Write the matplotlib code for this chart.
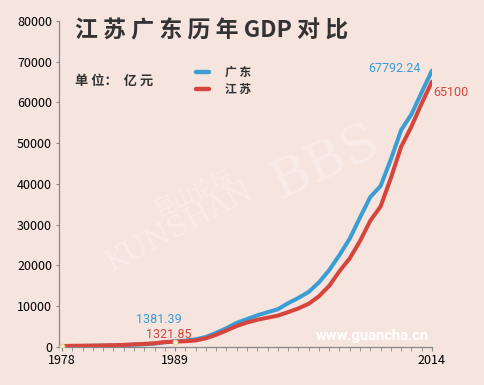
import numpy as np
import matplotlib
matplotlib.use('Agg')
import matplotlib.pyplot as plt

plt.rcParams['font.family'] = ['Noto Sans CJK SC', 'DejaVu Sans']

years = list(range(1978, 2015))
# 广东 GDP (亿元)
guangdong = [185.85, 209.34, 249.65, 290.36, 339.92, 368.75, 458.74, 577.38, 667.53, 846.69,
             1155.37, 1381.39, 1559.03, 1893.30, 2447.54, 3469.28, 4619.02, 5933.05, 6834.97,
             7774.53, 8530.88, 9250.68, 10741.25, 12039.25, 13502.42, 15844.64, 18864.62,
             22557.37, 26587.76, 31777.01, 36796.71, 39482.56, 46013.06, 53210.28, 57067.92,
             62474.79, 67792.24]
# 江苏 GDP (亿元)
jiangsu = [249.24, 298.55, 319.80, 350.02, 390.17, 437.65, 518.85, 651.82, 744.94, 922.33,
           1208.85, 1321.85, 1416.50, 1601.38, 2136.02, 2998.16, 4057.39, 5155.25, 6004.21,
           6680.34, 7199.95, 7697.82, 8553.69, 9456.84, 10606.85, 12442.87, 15003.60,
           18598.69, 21742.05, 26018.48, 30981.98, 34457.30, 41425.48, 49110.27, 54058.22,
           59753.37, 65100.00]
tick_years = [1978, 1989, 2014]

bg = '#f6e4df'
blue = '#3b9dd3'
red = '#d6453d'

fig = plt.figure(figsize=(4.85, 3.85), dpi=100, facecolor=bg)
ax = fig.add_axes([0.1216, 0.0987, 0.769, 0.847], facecolor=bg)

# 水印
wm = dict(color='white', alpha=0.3, ha='center', va='center')
fig.text(0.40, 0.50, '昆山论坛', fontsize=15, rotation=25, **wm)
fig.text(0.37, 0.41, 'KUNSHAN', fontsize=21, rotation=28, family='DejaVu Serif',
         fontweight='light', **wm)
fig.text(0.67, 0.58, 'BBS', fontsize=38, rotation=25, family='DejaVu Serif', **wm)

ax.plot(years, guangdong, color=blue, lw=2.9, solid_capstyle='round', zorder=3)
ax.plot(years, jiangsu, color=red, lw=2.9, solid_capstyle='round', zorder=4)
for yr in (1978, 1989):
    i = years.index(yr)
    ax.plot(yr, jiangsu[i], 'o', ms=3.5, mfc='#f6ecc8', mec='#e8d9a0', mew=0.6, zorder=5)

ax.set_xlim(1977.7, 2014)
ax.set_ylim(0, 80000)
ax.set_yticks(np.arange(0, 80001, 10000))
ax.set_xticks(tick_years)
ax.set_xticks(years, minor=True)
ax.tick_params(axis='y', labelsize=9, length=2, color='#888888', pad=3)
ax.tick_params(axis='x', which='both', labelsize=9, length=3, color='#888888', pad=2)
for s in ('top', 'right'):
    ax.spines[s].set_visible(False)
for s in ('left', 'bottom'):
    ax.spines[s].set_color('#888888')
    ax.spines[s].set_linewidth(0.9)

# 标题与说明
fig.text(0.155, 0.92, '江 苏 广 东 历 年 GDP 对 比', fontsize=16.5, fontweight='bold',
         color='#333333', ha='left', va='center')
fig.text(0.155, 0.79, '单 位：  亿 元', fontsize=9.5, fontweight='bold', color='#333333',
         ha='left', va='center')
fig.add_artist(plt.Line2D([0.405, 0.43], [0.813, 0.813], color=blue, lw=3.2,
                          solid_capstyle='round'))
fig.add_artist(plt.Line2D([0.405, 0.43], [0.768, 0.768], color=red, lw=3.2,
                          solid_capstyle='round'))
fig.text(0.463, 0.813, '广 东', fontsize=8.5, fontweight='bold', color='#333333',
         va='center')
fig.text(0.463, 0.768, '江 苏', fontsize=8.5, fontweight='bold', color='#333333',
         va='center')

# 数值标注
lab = dict(textcoords='offset points', fontsize=9, family='Roboto', va='center')
ax.annotate('67792.24', (years[-1], guangdong[-1]), xytext=(-46, 1.5), color=blue, **lab)
ax.annotate('65100', (years[-1], jiangsu[-1]), xytext=(1, -8), color=red, **lab)
ax.annotate('1381.39', (1989, guangdong[11]), xytext=(-28, 15.5), color=blue, **lab)
ax.annotate('1321.85', (1989, jiangsu[11]), xytext=(-21, 5), color=red, **lab)

fig.text(0.652, 0.127, 'www.guancha.cn', fontsize=10.5, fontweight='bold', color='white',
         family='Roboto', va='center')

fig.savefig('out.png', dpi=100, facecolor=bg)
